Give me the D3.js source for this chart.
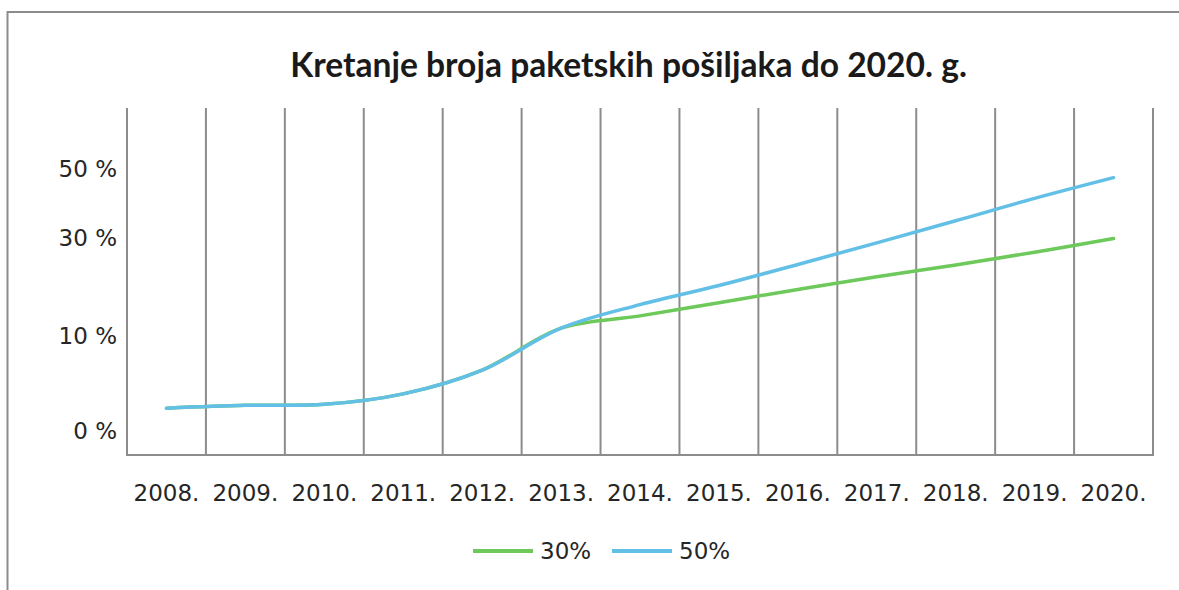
<!DOCTYPE html>
<html>
<head>
<meta charset="utf-8">
<script src="https://cdn.jsdelivr.net/npm/d3@7"></script>
<style>
  body { margin: 0; background: #fff; }
  .grid { stroke: #8c8c8c; stroke-width: 2; }
  .tick text { font-family: "DejaVu Sans", sans-serif; font-size: 23px; fill: #262626; }
  .legend text { font-family: "DejaVu Sans", sans-serif; font-size: 23px; fill: #262626; }
  .title { font-family: Lato, "Open Sans", sans-serif; font-weight: bold; fill: #1a1a1a; }
</style>
</head>
<body>
<svg id="chart" width="1179" height="590"></svg>
<script>
//-----------DATA ------------------------------------------//
var years = ["2008.", "2009.", "2010.", "2011.", "2012.", "2013.", "2014.",
             "2015.", "2016.", "2017.", "2018.", "2019.", "2020."];
var yTicks = [0, 10, 30, 50];
var series30 = [2.3, 2.6, 2.7, 3.8, 6.3, 11.4, 13.9, 16.6, 19.3, 21.9, 24.3, 26.9, 29.7];
var series50 = [2.3, 2.6, 2.7, 3.8, 6.3, 11.4, 16.2, 20.1, 24.4, 28.8, 34.7, 41.2, 47.2];
var seriesNames = ["30%", "50%"];
var seriesColors = ["#6cc95a", "#62bfe6"];
var titleText = "Kretanje broja paketskih pošiljaka do 2020. g.";

var svg = d3.select("#chart");

// plot area
var plotLeft = 127, plotRight = 1153, plotTop = 108, plotBottom = 455;

//-----------SCALES ----------------------------------------//
var x = d3.scaleBand()
  .domain(years)
  .range([plotLeft, plotRight]);

// the y axis in the picture is not evenly spaced, so use a piecewise scale
var y = d3.scaleLinear()
  .domain(yTicks)
  .range([430, 335, 237, 168]);

//-----------FRAME -----------------------------------------//
svg.append("path")
  .attr("d", "M7.5,590V12H1179")
  .attr("fill", "none")
  .attr("stroke", "#8c8c8c")
  .attr("stroke-width", 2);

//TITLE
var title = svg.append("text")
  .attr("class", "title")
  .attr("x", 628.5)
  .attr("y", 77)
  .attr("text-anchor", "middle")
  .style("font-size", "28px")
  .text(titleText);
// fit the title to the width it has in the picture
var tw = title.node().getComputedTextLength();
title.style("font-size", (28 * 677 / tw) + "px");

//-----------GRID ------------------------------------------//
var bounds = years.map(function(d) { return x(d); }).concat([plotRight]);
svg.append("g")
  .attr("class", "xgrid")
  .selectAll("line")
  .data(bounds)
  .enter()
  .append("line")
  .attr("class", "grid")
  .attr("x1", function(d) { return d; })
  .attr("x2", function(d) { return d; })
  .attr("y1", plotTop)
  .attr("y2", plotBottom);

svg.append("line")
  .attr("class", "grid")
  .attr("x1", plotLeft - 1)
  .attr("x2", plotRight + 1)
  .attr("y1", plotBottom)
  .attr("y2", plotBottom);

//-----------AXES ------------------------------------------//
var xaxis = svg.append("g")
  .attr("class", "xaxis")
  .attr("transform", "translate(0," + plotBottom + ")")
  .call(d3.axisBottom(x).tickSize(0).tickPadding(30));
xaxis.select(".domain").remove();
xaxis.selectAll(".tick text").attr("font-family", null).attr("font-size", null);

var yaxis = svg.append("g")
  .attr("class", "yaxis")
  .attr("transform", "translate(117,0)")
  .call(d3.axisLeft(y).tickValues(yTicks).tickSize(0).tickPadding(0)
    .tickFormat(function(d) { return d + " %"; }));
yaxis.select(".domain").remove();
yaxis.selectAll(".tick text").attr("font-family", null).attr("font-size", null)
  .attr("dy", "0.37em");

//-----------LINES -----------------------------------------//
var line = d3.line()
  .x(function(d, i) { return x(years[i]) + x.bandwidth() / 2; })
  .y(function(d) { return y(d); })
  .curve(d3.curveCatmullRom.alpha(0.5));

[series30, series50].forEach(function(s, i) {
  svg.append("path")
    .datum(s)
    .attr("fill", "none")
    .attr("stroke", seriesColors[i])
    .attr("stroke-width", 3.5)
    .attr("stroke-linejoin", "round")
    .attr("stroke-linecap", "round")
    .attr("d", line);
});

//-----------LEGEND ----------------------------------------//
var legendX = [473, 612];
var legend = svg.append("g")
  .attr("class", "legend")
  .selectAll("g")
  .data(seriesNames)
  .enter()
  .append("g")
  .attr("transform", function(d, i) { return "translate(" + legendX[i] + ",551)"; });

legend.append("line")
  .attr("x1", 0)
  .attr("x2", 60)
  .attr("stroke", function(d, i) { return seriesColors[i]; })
  .attr("stroke-width", 4);

legend.append("text")
  .attr("x", 67)
  .attr("y", 8)
  .text(function(d) { return d; });
</script>
</body>
</html>
